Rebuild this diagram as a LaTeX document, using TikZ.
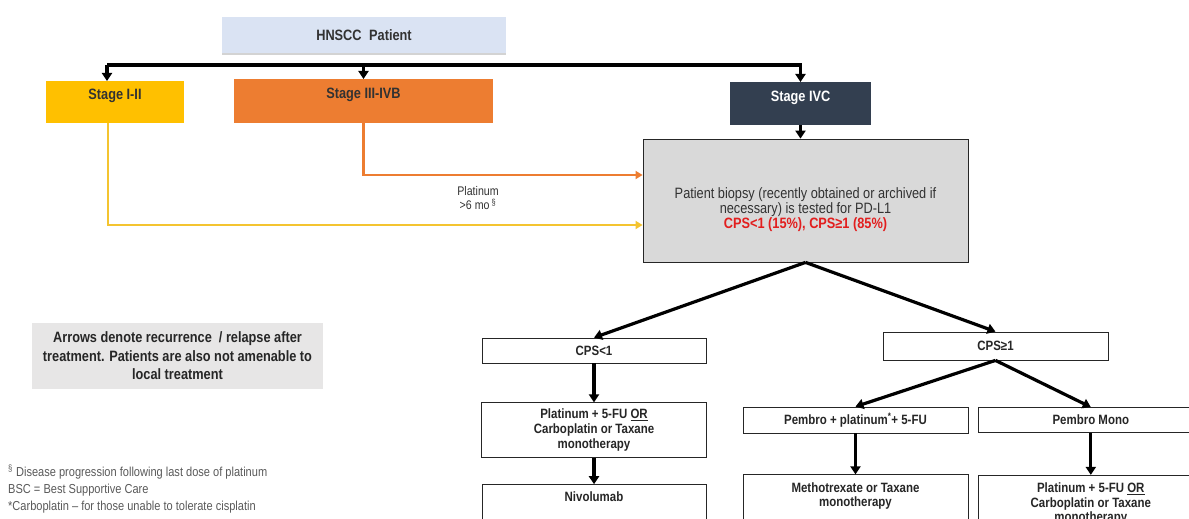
\documentclass[tikz,border=0pt]{standalone}
\usepackage{fontspec}
\setmainfont{Liberation Sans}[FakeStretch=0.85]
\usepackage{tikz}
\usetikzlibrary{positioning,calc,arrows.meta,shadows}
\definecolor{patientblue}{RGB}{218,227,243}
\definecolor{stageyellow}{RGB}{255,192,0}
\definecolor{stageorange}{RGB}{237,125,49}
\definecolor{stagedark}{RGB}{51,63,80}
\definecolor{biopsygray}{RGB}{217,217,217}
\definecolor{notegray}{RGB}{231,230,230}
\definecolor{cpsred}{RGB}{226,30,30}
\definecolor{textgray}{RGB}{50,50,50}
\definecolor{footgray}{RGB}{89,89,89}
\definecolor{yellowline}{RGB}{244,196,48}

\begin{document}
\begin{tikzpicture}[x=1pt,y=-1pt,
  every node/.style={inner sep=0pt,text=textgray},
  stagebox/.style={rectangle,font=\fontsize{15}{17}\selectfont\bfseries},
  treatbox/.style={rectangle,draw=black!85,fill=white,line width=0.8pt,align=center,
    font=\fontsize{13.5}{15}\selectfont\bfseries,text=black!85},
  boxtext/.style={align=center,font=\fontsize{13.5}{14.5}\selectfont\bfseries,text=black!85},
  arr/.style={line width=3.2pt,-{Triangle[width=10pt,length=8pt]}},
  relapse/.style={line width=2.8pt,-{Triangle[width=8pt,length=7pt]}}]
\useasboundingbox (0,0) rectangle (1189,519);
\clip (0,0) rectangle (1189,519);

\node[fill=patientblue,minimum width=284pt,minimum height=36pt,
  font=\fontsize{15}{17}\selectfont\bfseries,
  drop shadow={shadow xshift=0pt,shadow yshift=-2pt,opacity=0.35}] (patient) at (364,35) {HNSCC\hspace{4pt} Patient};

\node[stagebox,fill=stageyellow,minimum width=138pt,text height=18.5pt,text depth=23.5pt,anchor=north] (early) at (115,81) {Stage I-II};
\node[stagebox,fill=stageorange,minimum width=259pt,text height=19.5pt,text depth=24.5pt,anchor=north] (advanced) at (363.5,79) {Stage III-IVB};
\node[stagebox,fill=stagedark,minimum width=141pt,text height=19pt,text depth=24pt,anchor=north,text=white] (metastatic) at (800.5,82) {Stage IVC};

\node[draw=black!85,fill=biopsygray,line width=0.8pt,minimum width=325pt,minimum height=123pt,
  label={[align=center,font=\fontsize{15}{15}\selectfont,yshift=-9pt]center:{Patient biopsy (recently obtained or archived if\\
  necessary) is tested for PD-L1\\
  \textcolor{cpsred}{\bfseries CPS<1 (15\%), CPS≥1 (85\%)}}}] (biopsy) at (805.5,200.5) {};

\node[font=\fontsize{12.5}{14}\selectfont,align=center] (platlabel) at (478,198) {Platinum\\>6 mo\,\textsuperscript{\S}};

% recurrence / relapse
\coordinate (bus) at (107,65);
\draw[arr] (bus) -- (bus |- early.north);
\draw[arr] (bus) -| (metastatic.north);
\draw[arr] (advanced.north |- bus) -- (advanced.north);
\draw[arr] (metastatic.south) -- (metastatic.south |- biopsy.north);
\draw[relapse,stageorange] (advanced.south) |- ($(biopsy.west)+(0,-25.5)$);
\draw[relapse,yellowline] ($(early.south)+(-7,0)$) |- ($(biopsy.west)+(0,24.5)$);

\node[fill=notegray,minimum width=291pt,minimum height=66pt,align=center,
  font=\fontsize{15}{18.5}\selectfont\bfseries,text=black!85] (note) at (177.5,356)
  {Arrows denote recurrence~ / relapse after\\treatment. Patients are also not amenable to\\local treatment};

\node[anchor=west,align=left,font=\fontsize{13}{17}\selectfont,text=footgray] (foot) at (8,489)
  {\textsuperscript{\S} Disease progression following last dose of platinum\\
  BSC = Best Supportive Care\\
  *Carboplatin -- for those unable to tolerate cisplatin};

% PD-L1 branches
\node[treatbox,minimum width=224pt,minimum height=25pt] (cpslow) at (594,350.5) {CPS<1};
\node[treatbox,minimum width=225pt,minimum height=28pt] (cpshigh) at (995.5,346) {CPS≥1};

\node[treatbox,minimum width=225pt,minimum height=55pt,below=39pt of cpslow] (chemolow)
  {Platinum + 5-FU \underline{OR}\\Carboplatin or Taxane\\monotherapy};
\node[treatbox,minimum width=224pt,text height=17pt,text depth=43pt,below=26pt of chemolow] (nivo) {Nivolumab};

\node[treatbox,minimum width=225pt,minimum height=26pt] (pembrochemo) at (855.5,420) {Pembro + platinum\textsuperscript{*}+ 5-FU};
\node[treatbox,minimum width=224pt,minimum height=25pt,right=10pt of pembrochemo] (pembromono) {Pembro Mono};

\node[treatbox,minimum width=225pt,minimum height=60pt,below=41pt of pembrochemo,
  label={[boxtext,anchor=north,yshift=-8pt]north:{Methotrexate or Taxane\\monotherapy}}] (mtx) {};
\node[treatbox,minimum width=224pt,minimum height=60pt,below=42pt of pembromono,
  label={[boxtext,anchor=north,yshift=-8pt]north:{Platinum + 5-FU \underline{OR}\\Carboplatin or Taxane\\monotherapy}}] (chemohigh) {};

\draw[arr] (biopsy.south) -- (cpslow.north);
\draw[arr] (biopsy.south) -- (cpshigh.north);
\draw[arr] (cpslow) -- (chemolow);
\draw[arr] (chemolow) -- (nivo);
\draw[arr] (cpshigh.south) -- (pembrochemo.north);
\draw[arr] (cpshigh.south) -- (pembromono.north);
\draw[arr] (pembrochemo) -- (mtx);
\draw[arr] (pembromono) -- (chemohigh);
\end{tikzpicture}
\end{document}
